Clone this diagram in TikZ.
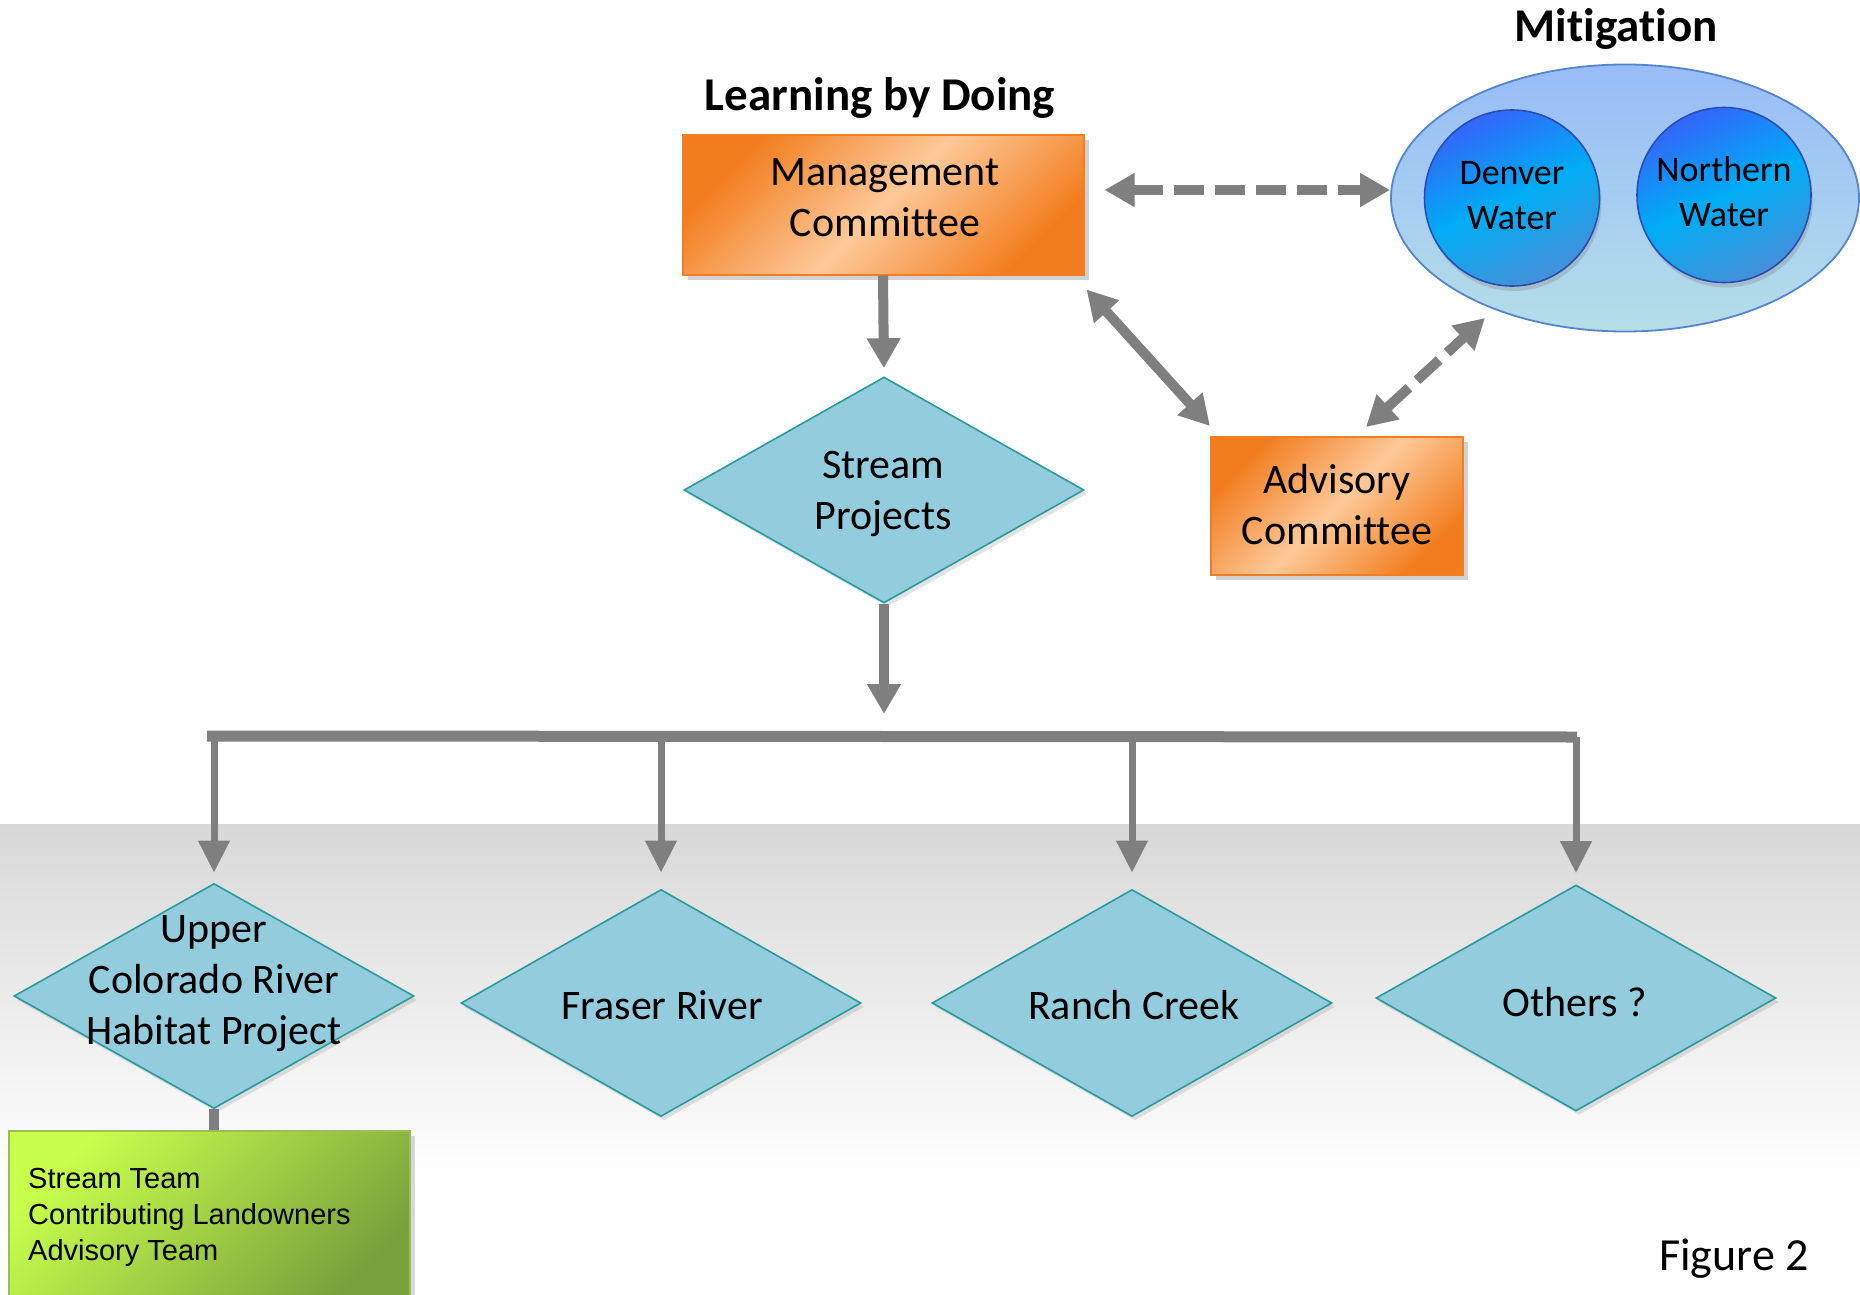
\documentclass[tikz,border=0pt]{standalone}
\usepackage{fontspec}
\setmainfont{Carlito}[Ligatures=NoCommon]
\newfontfamily\arialfont{Liberation Sans}
\usetikzlibrary{arrows.meta,shapes.geometric,shadows,calc}
\definecolor{orgdark}{HTML}{F27D1E}
\definecolor{orglight}{HTML}{FDC999}
\definecolor{orgline}{HTML}{F37D22}
\definecolor{dmfill}{HTML}{93CDDD}
\definecolor{dmline}{HTML}{2A9A9C}
\definecolor{arrgray}{HTML}{7F7F7F}
\definecolor{mittop}{HTML}{97BCF8}
\definecolor{mitbot}{HTML}{B5DEE8}
\definecolor{mitline}{HTML}{5585CC}
\definecolor{bluetop}{HTML}{3366FA}
\definecolor{bluemid}{HTML}{00ADF5}
\definecolor{bluebot}{HTML}{4590D8}
\definecolor{blueline}{HTML}{2A4DB5}
\definecolor{grnlight}{HTML}{C8FF4C}
\definecolor{grndark}{HTML}{78A03C}
\definecolor{grnline}{HTML}{9BBB59}
\definecolor{bandgray}{HTML}{D8D8D8}
\begin{document}
\begin{tikzpicture}[x=1pt,y=-1pt,
  every node/.style={inner sep=0pt},
  obox/.style={rectangle, draw=orgline, line width=2pt,
    top color=orgdark, bottom color=orgdark, middle color=orglight, shading angle=45,
    drop shadow={opacity=0.35, shadow xshift=5pt, shadow yshift=-5pt}},
  dmnd/.style={diamond, draw=dmline, line width=1.6pt, fill=dmfill,
    minimum width=400pt, minimum height=226pt,
    drop shadow={opacity=0.22, shadow xshift=3pt, shadow yshift=-4pt}},
  lbl/.style={align=center, font=\fontsize{42}{51}\selectfont},
  ttl/.style={font=\fontsize{47}{56}\selectfont\bfseries},
  wcirc/.style={ellipse, draw=blueline, line width=1.6pt,
    top color=bluetop, bottom color=bluebot, middle color=bluemid, shading angle=25,
    drop shadow={opacity=0.3, shadow xshift=2pt, shadow yshift=-5pt}},
  wtxt/.style={align=center, font=\fontsize{36}{45}\selectfont},
  link/.style={draw=arrgray, line width=10pt},
  bigtip/.tip={Triangle[width=32pt,length=30pt]},
  smalltip/.tip={Triangle[width=30pt,length=32pt]},
  dsh/.style={dash pattern=on 30pt off 11pt}
]
% canvas and background band
\useasboundingbox (0,0) rectangle (1860,1295);
\fill[white] (0,0) rectangle (1860,1295);
\shade[top color=bandgray, bottom color=white] (0,824) rectangle (1860,1180);

% titles
\node[ttl] (ttlLbd) at (880,98) {Learning by Doing};
\node[ttl] (ttlMit) at (1616,29) {Mitigation};
\node[font=\fontsize{46}{55}\selectfont] (fig) at (1734,1259) {Figure 2};

% mitigation group
\node[ellipse, draw=mitline, line width=1.8pt, top color=mittop, bottom color=mitbot,
      minimum width=468pt, minimum height=267pt] (mit) at (1625,198) {};
\node[wcirc, minimum width=175pt, minimum height=176pt] (den) at (1512,198) {};
\node[wtxt] (dentxt) at (1512,196) {Denver\\Water};
\node[wcirc, minimum width=174pt, minimum height=175pt] (nor) at (1724,195) {};
\node[wtxt] (nortxt) at (1724,192) {Northern\\Water};

% orange boxes
\node[obox, minimum width=401pt, minimum height=139pt] (mgmt) at (883,205) {};
\node[lbl] (mgmttxt) at (885,198) {Management\\Committee};
\node[obox, minimum width=252pt, minimum height=138pt] (adv) at (1337,506) {};
\node[lbl] (advtxt) at (1337,505) {Advisory\\Committee};

% diamonds
\node[dmnd] (sp) at (884,490) {};
\node[lbl] (sptxt) at (883,494) {Stream\\Projects};
\node[dmnd, minimum height=225pt] (up) at (214,996) {};
\node[lbl] (uptxt) at (214,984) {Upper\\Colorado River\\Habitat Project};
\node[dmnd, minimum height=227pt] (fr) at (661,1003) {};
\node[lbl] (frtxt) at (662,1005) {Fraser River};
\node[dmnd, minimum height=227pt] (rc) at (1132,1003) {};
\node[lbl] (rctxt) at (1134,1005) {Ranch Creek};
\node[dmnd] (ot) at (1576,998) {};
\node[lbl] (ottxt) at (1575,1002) {Others ?};

% green box
\node[rectangle, draw=grnline, line width=2pt, anchor=north west,
      top color=grnlight, bottom color=grndark, shading angle=45,
      minimum width=401pt, minimum height=180pt,
      drop shadow={opacity=0.3, shadow xshift=5pt, shadow yshift=-5pt}] (grn) at (8,1130) {};
\node[anchor=west, align=left, font=\arialfont\fontsize{29}{36}\selectfont] (grntxt) at (28,1217)
  {Stream Team\\Contributing Landowners\\Advisory Team};

% connectors
\coordinate (busL) at (207,736);
\coordinate (busR) at (1577,737);
\draw[link, -{bigtip}, shorten >=8pt] (mgmt.south) -- (sp.north);
\draw[link, -{bigtip}, shorten >=22pt] (sp.south) -- (sp.south |- busL);
\draw[link, line width=11pt] (busL) -- (busR);
\draw[link, line width=7pt, -{smalltip}, shorten >=10pt] (up.north |- busL) -- (up.north);
\draw[link, line width=7pt, -{smalltip}, shorten >=16pt] (fr.north |- busL) -- (fr.north);
\draw[link, line width=7pt, -{smalltip}, shorten >=16pt] (rc.north |- busL) -- (rc.north);
\draw[link, line width=7pt, -{smalltip}, shorten >=11pt] (ot.north |- busR) -- (ot.north);
\draw[link] (up.south) -- (up.south |- grn.north);

\draw[link, dsh, {bigtip}-{bigtip}] ($(mgmt.east)+(20,-15)$) -- ($(mit.west)+(0,-8)$);
\draw[link, {bigtip}-{bigtip}] ($(mgmt.south east)+(2,14)$) -- ($(adv.north west)+(0,-10)$);
\draw[link, dsh, {bigtip}-{bigtip}] ($(adv.north)+(29,-9)$) -- ($(mit.center)+(-140,120)$);
\end{tikzpicture}
\end{document}
